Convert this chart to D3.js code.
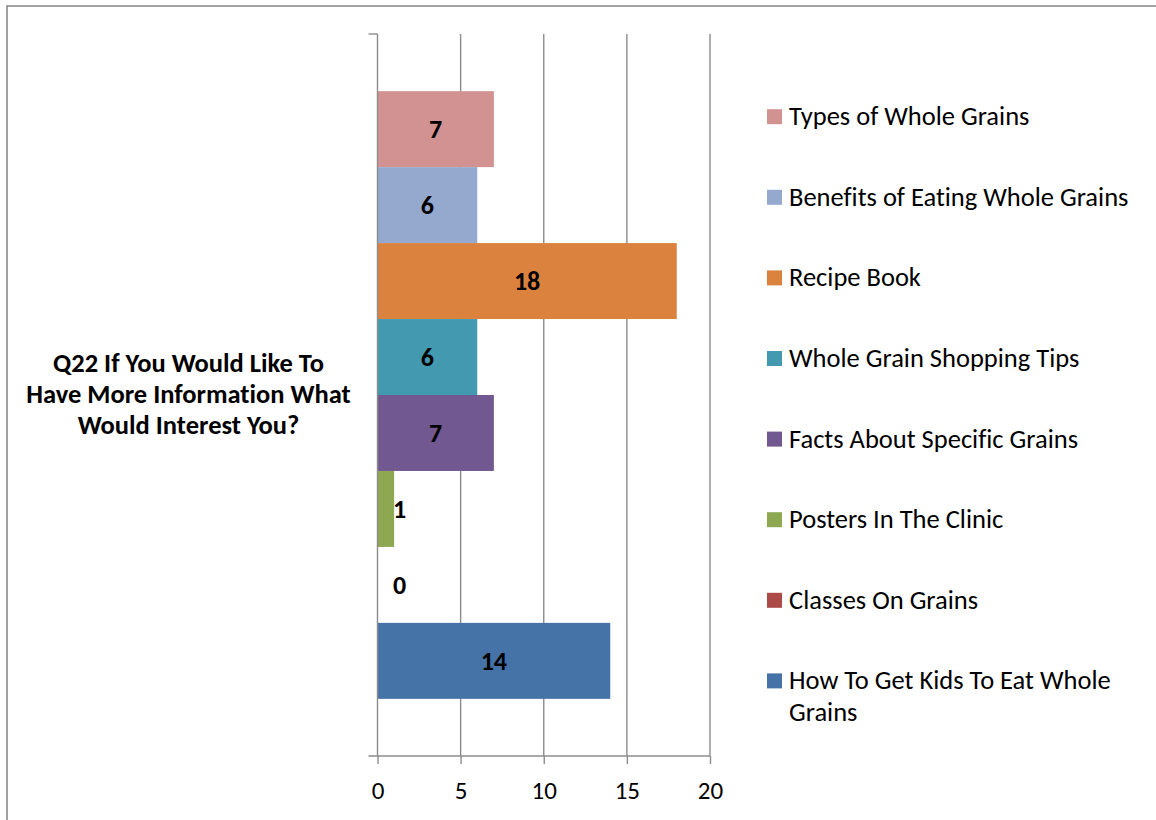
<!DOCTYPE html>
<html>
<head>
<meta charset="utf-8">
<script src="https://cdn.jsdelivr.net/npm/d3@7"></script>
<style>
  html, body { margin: 0; padding: 0; background: #fff; }
  svg { display: block; }
  text { font-family: Carlito, Calibri, "Open Sans", "Noto Sans", sans-serif; font-variant-ligatures: none; }
</style>
</head>
<body>
<svg id="chart" width="1156" height="820"></svg>
<script>
// Survey responses, one series per answer option
const seriesNames = [
  "Types of Whole Grains",
  "Benefits of Eating Whole Grains",
  "Recipe Book",
  "Whole Grain Shopping Tips",
  "Facts About Specific Grains",
  "Posters In The Clinic",
  "Classes On Grains",
  "How To Get Kids To Eat Whole Grains"
];
const seriesValues = [7, 6, 18, 6, 7, 1, 0, 14];
const seriesColors = ["#D39292", "#95A9CF", "#DC823F", "#4399AF", "#715890", "#8EA852", "#AC4A47", "#4573A8"];
const xTicks = [0, 5, 10, 15, 20];
const categoryTitle = ["Q22 If You Would Like To", "Have More Information What", "Would Interest You?"];

const svg = d3.select("#chart");
const axisColor = "#8c8c8c";
const fontStack = "Carlito, Calibri, 'Open Sans', 'Noto Sans', sans-serif";

// chart frame
svg.append("rect")
  .attr("x", 7).attr("y", 6).attr("width", 1170).attr("height", 840)
  .attr("fill", "none").attr("stroke", "#8a8a8a").attr("stroke-width", 1.6);

const plot = { left: 377.5, right: 710, top: 34, bottom: 756 };

const x = d3.scaleLinear().domain([0, 20]).range([plot.left, plot.right]);
const y = d3.scaleBand().domain(seriesNames)
  .range([plot.top, plot.bottom]).paddingInner(0).paddingOuter(0.7525);

// vertical gridlines
svg.append("g").selectAll("line")
  .data(xTicks.filter(t => t > 0))
  .join("line")
  .attr("x1", d => x(d)).attr("x2", d => x(d))
  .attr("y1", plot.top).attr("y2", plot.bottom)
  .attr("stroke", axisColor).attr("stroke-width", 1.4);

// bars
svg.append("g").selectAll("rect")
  .data(seriesNames)
  .join("rect")
  .attr("x", x(0))
  .attr("y", d => y(d))
  .attr("width", (d, i) => x(seriesValues[i]) - x(0))
  .attr("height", y.bandwidth())
  .attr("fill", (d, i) => seriesColors[i]);

// value axis (bottom)
const xAxis = d3.axisBottom(x).tickValues(xTicks).tickSize(8).tickSizeOuter(0);
const gx = svg.append("g").attr("transform", `translate(0,${plot.bottom})`).call(xAxis);
gx.select(".domain").remove();
gx.selectAll(".tick line").attr("stroke", axisColor).attr("stroke-width", 1.4);
gx.selectAll(".tick text")
  .attr("y", 43).attr("dy", 0)
  .attr("font-size", 25).attr("fill", "#000")
  .style("font-family", fontStack);
svg.append("line")
  .attr("x1", plot.left - 9).attr("x2", plot.right)
  .attr("y1", plot.bottom).attr("y2", plot.bottom)
  .attr("stroke", axisColor).attr("stroke-width", 1.4);

// category axis (left) with its outer tick
svg.append("line")
  .attr("x1", plot.left).attr("x2", plot.left)
  .attr("y1", plot.top).attr("y2", plot.bottom)
  .attr("stroke", axisColor).attr("stroke-width", 1.4);
svg.append("line")
  .attr("x1", plot.left - 9).attr("x2", plot.left)
  .attr("y1", plot.top).attr("y2", plot.top)
  .attr("stroke", axisColor).attr("stroke-width", 1.4);

// category label
svg.append("text")
  .attr("x", 188.5).attr("y", 372)
  .attr("text-anchor", "middle")
  .attr("font-size", 26.5).attr("font-weight", "bold").attr("fill", "#000")
  .selectAll("tspan").data(categoryTitle).join("tspan")
  .attr("x", 188.5).attr("dy", (d, i) => i === 0 ? 0 : 30.8)
  .text(d => d);

// data labels
svg.append("g").selectAll("text")
  .data(seriesNames)
  .join("text")
  .attr("x", (d, i) => Math.max((x(0) + x(seriesValues[i])) / 2, x(0) + 22))
  .attr("y", d => y(d) + y.bandwidth() / 2)
  .attr("dy", "0.36em")
  .attr("text-anchor", "middle")
  .attr("font-size", 26).attr("font-weight", "bold").attr("fill", "#000")
  .text((d, i) => seriesValues[i]);

// legend
const legendTop = 116.7, legendStep = 80.6;
const legend = svg.append("g").selectAll("g")
  .data(seriesNames)
  .join("g")
  .attr("transform", (d, i) => `translate(767,${legendTop + i * legendStep})`);
legend.append("rect")
  .attr("x", 0).attr("y", -7.5).attr("width", 15).attr("height", 15)
  .attr("fill", (d, i) => seriesColors[i]);
const legendText = legend.append("text")
  .attr("x", 22).attr("y", 8.5)
  .attr("font-size", 26.5).attr("fill", "#000");
legendText.each(function(d) {
  const t = d3.select(this);
  // long names wrap onto a second line
  const lines = d.length > 32 ? [d.slice(0, d.lastIndexOf(" ")), d.slice(d.lastIndexOf(" ") + 1)] : [d];
  t.selectAll("tspan").data(lines).join("tspan")
    .attr("x", 22).attr("dy", (l, i) => i === 0 ? 0 : 31.5)
    .text(l => l);
});
</script>
</body>
</html>
